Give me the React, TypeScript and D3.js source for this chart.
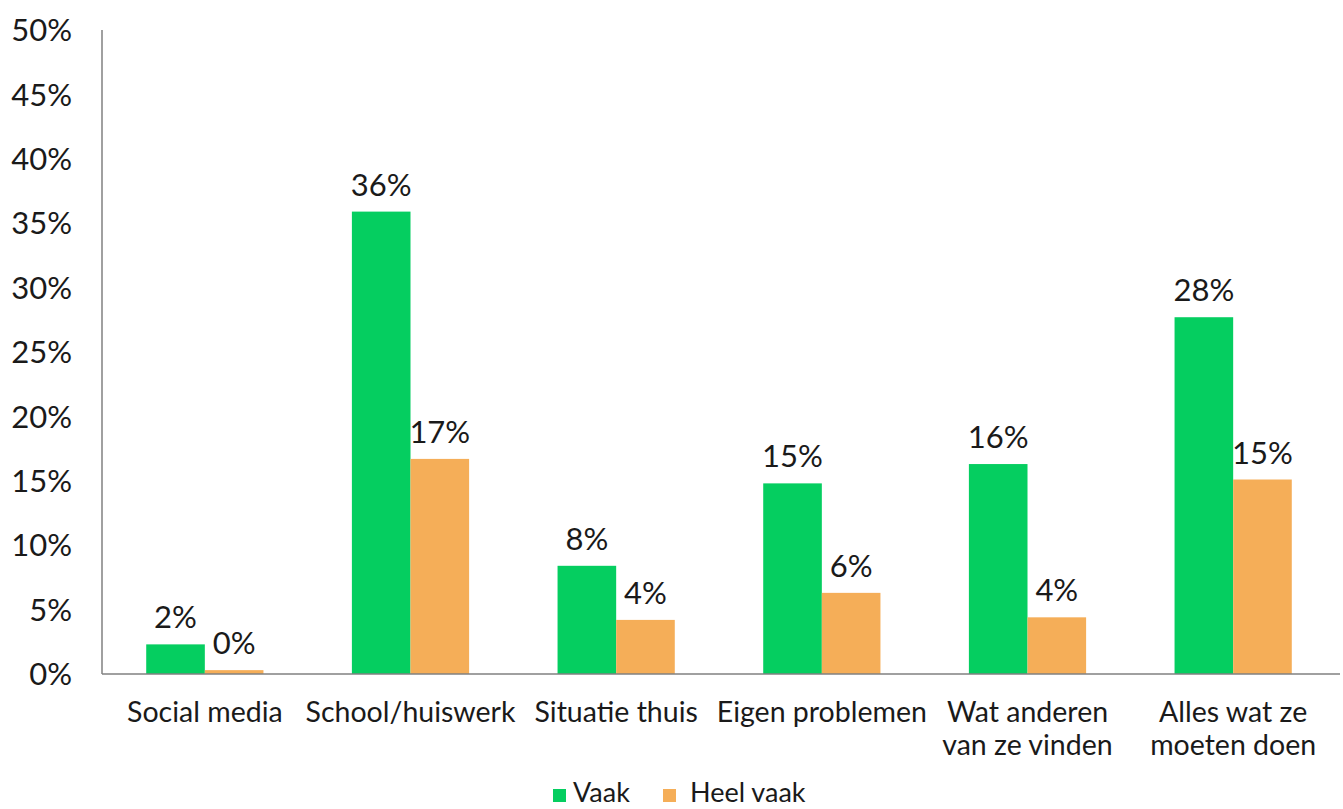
import React from "react";
import * as d3 from "d3";

const categories = [
  ["Social media"],
  ["School/huiswerk"],
  ["Situatie thuis"],
  ["Eigen problemen"],
  ["Wat anderen", "van ze vinden"],
  ["Alles wat ze", "moeten doen"],
];
const seriesNames = ["Vaak", "Heel vaak"];
const vaak = [2.3, 35.9, 8.4, 14.8, 16.3, 27.7];
const heelVaak = [0.3, 16.7, 4.2, 6.3, 4.4, 15.1];
const vaakLabels = ["2%", "36%", "8%", "15%", "16%", "28%"];
const heelVaakLabels = ["0%", "17%", "4%", "6%", "4%", "15%"];
const yTicks = [0, 5, 10, 15, 20, 25, 30, 35, 40, 45, 50];
const colors = ["#05CE60", "#F5AE58"];

const W = 1343;
const H = 809;
const FONT = "Lato, 'Open Sans', sans-serif";

export default function App() {
  const x0 = 102;
  const x1 = 1336;
  const yBottom = 674;
  const yTop = 30;
  const idx = categories.map((_, i) => String(i));
  const xBand = d3.scaleBand<string>().domain(idx).range([x0, x1]).paddingInner(0.43).paddingOuter(0.215);
  const xInner = d3.scaleBand<string>().domain(["0", "1"]).range([0, xBand.bandwidth()]).padding(0);
  const y = d3.scaleLinear().domain([0, 50]).range([yBottom, yTop]);
  const series = [vaak, heelVaak];
  const labels = [vaakLabels, heelVaakLabels];
  const step = (x1 - x0) / categories.length;

  return (
    <svg width={W} height={H} style={{ position: "absolute", left: 0, top: 0, background: "#fff" }} fontFamily={FONT}>
      <rect width={W} height={H} fill="#fff" />
      {yTicks.map((t) => (
        <text key={t} x={72} y={y(t)} dy="0.36em" textAnchor="end" fontSize={31} fill="#1a1a1a">
          {t}%
        </text>
      ))}
      {idx.map((c, i) =>
        series.map((s, j) => {
          const bx = (xBand(c) as number) + (xInner(String(j)) as number);
          const bw = xInner.bandwidth();
          return (
            <g key={`${i}-${j}`}>
              <rect x={bx} y={y(s[i])} width={bw} height={yBottom - y(s[i])} fill={colors[j]} />
              <text x={bx + bw / 2} y={y(s[i]) - 16} textAnchor="middle" fontSize={31} fill="#1a1a1a">
                {labels[j][i]}
              </text>
            </g>
          );
        })
      )}
      <line x1={x0} x2={x0} y1={yTop} y2={yBottom} stroke="#808080" strokeWidth={1.5} />
      <line x1={x0} x2={x1 + 4} y1={yBottom} y2={yBottom} stroke="#808080" strokeWidth={1.5} />
      {categories.map((lines, i) => (
        <text key={i} textAnchor="middle" fontSize={28.5} fill="#1a1a1a">
          {lines.map((l, k) => (
            <tspan key={k} x={x0 + step * (i + 0.5)} y={722 + k * 33}>
              {l}
            </tspan>
          ))}
        </text>
      ))}
      <g>
        <rect x={553} y={789} width={13} height={13} fill={colors[0]} />
        <text x={573} y={802} fontSize={27} fill="#1a1a1a">{seriesNames[0]}</text>
        <rect x={663} y={789} width={13} height={13} fill={colors[1]} />
        <text x={690} y={802} fontSize={27} fill="#1a1a1a">{seriesNames[1]}</text>
      </g>
    </svg>
  );
}
